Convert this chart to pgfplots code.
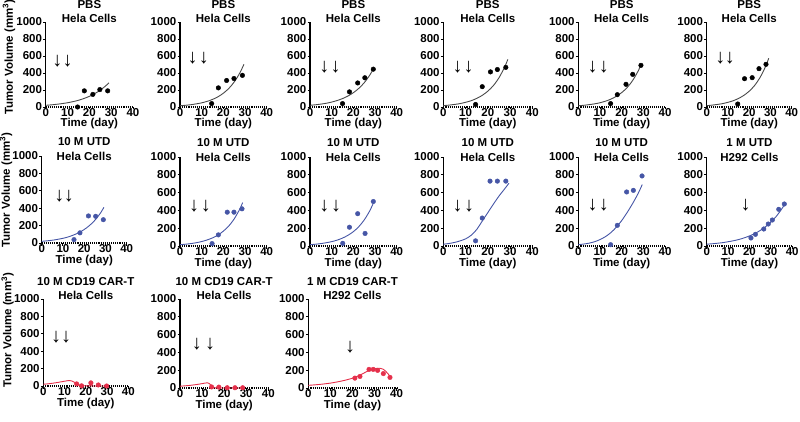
\documentclass[border=0pt]{standalone}
\usepackage{fontspec}
\setmainfont{Liberation Sans}
\usepackage{pgfplots}
\pgfplotsset{compat=1.18}
\definecolor{cgray}{HTML}{4A4A4A}
\definecolor{ublue}{HTML}{4656A6}
\definecolor{cred}{HTML}{E5304B}
\newcommand{\fs}{\fontsize{11.5}{14.5}\selectfont\bfseries}
\newcommand{\arr}{\fontsize{20}{20}\selectfont\bfseries}
\pgfplotsset{
  panel/.style={
    scale only axis, anchor=south west,
    xmin=0, xmax=40, ymin=0, ymax=1000,
    axis x line*=bottom, axis y line*=left,
    xtick={0,10,20,30,40}, ytick={0,200,400,600,800,1000},
    tick align=outside, major tick length=2.5pt,
    every tick/.style={black, line width=0.9pt},
    axis line style={black, line width=1.1pt},
    x axis line style={densely dotted},
    clip=false,
    tick label style={font=\fs},
    /pgf/number format/assume math mode=true,
    /pgf/number format/1000 sep={},
    xticklabel style={inner sep=0pt, yshift=1pt},
    yticklabel style={inner sep=1pt},
    xlabel={Time (day)},
    xlabel style={font=\fs, at={(axis description cs:0.5,-0.2)}, anchor=center},
    title style={font=\fs, align=center, at={(axis description cs:0.5,1.05)}, anchor=center},
  },
  ylab/.style={ylabel={Tumor Volume (mm\textsuperscript{3})},
    ylabel style={font=\fs, at={(axis description cs:-0.42,#1)}, anchor=center}},
  crv/.style={smooth, tension=0.5, line width=0.9pt, no marks},
  pts/.style={only marks, mark=*, mark size=2.3pt},
}
\begin{document}
\begin{tikzpicture}
\path[use as bounding box] (0,0) rectangle (800pt,421pt);
% ---------------- Row 1 ----------------
\begin{axis}[panel, ylab=0.585, at={(45.7pt,314pt)}, width=87.3pt, height=85pt, title={PBS\\Hela Cells}]
\addplot[crv, cgray] coordinates {(0,20)(2.5,25)(5,32)(7.5,40)(10,50)(12.5,63)(15,79)(17.5,100)(20,125)(22.5,158)(25,198)(27.5,249)(29,285)};
\addplot[pts, black] coordinates {(14.6,0)(17.7,190)(21.6,148)(24.8,205)(28.4,190)};
\node[font=\arr] at (axis cs:5.3,540) {↓};
\node[font=\arr] at (axis cs:10.1,540) {↓};
\end{axis}
\begin{axis}[panel, at={(180pt,314pt)}, width=86.7pt, height=85pt, title={PBS\\Hela Cells}]
\addplot[crv, cgray] coordinates {(0,15)(2.5,20)(5,27)(7.5,37)(10,49)(12.5,66)(15,89)(17.5,120)(20,162)(22.5,218)(25,294)(27.5,396)(29.5,502)};
\addplot[pts, black] coordinates {(14.6,40)(17.7,225)(21.5,312)(24.9,335)(28.8,372)};
\node[font=\arr] at (axis cs:5.8,571) {↓};
\node[font=\arr] at (axis cs:11,571) {↓};
\end{axis}
\begin{axis}[panel, at={(310pt,314pt)}, width=86.7pt, height=85pt, title={PBS\\Hela Cells}]
\addplot[crv, cgray] coordinates {(0,20)(2.5,26)(5,34)(7.5,44)(10,58)(12.5,76)(15,99)(17.5,129)(20,168)(22.5,219)(25,285)(27.5,372)(29.5,460)};
\addplot[pts, black] coordinates {(15,40)(18.2,178)(22,283)(25.3,344)(29.2,445)};
\node[font=\arr] at (axis cs:6.6,472) {↓};
\node[font=\arr] at (axis cs:11.8,472) {↓};
\end{axis}
\begin{axis}[panel, at={(443.3pt,314pt)}, width=89pt, height=85pt, title={PBS\\Hela Cells}]
\addplot[crv, cgray] coordinates {(0,16)(2.5,22)(5,30)(7.5,40)(10,55)(12.5,74)(15,101)(17.5,137)(20,186)(22.5,252)(25,343)(27.5,466)(29,560)};
\addplot[pts, black] coordinates {(14.5,30)(17.5,239)(21.2,413)(24.3,441)(28.1,466)};
\node[font=\arr] at (axis cs:6.4,472) {↓};
\node[font=\arr] at (axis cs:11.4,472) {↓};
\end{axis}
\begin{axis}[panel, at={(578.3pt,314pt)}, width=86.7pt, height=85pt, title={PBS\\Hela Cells}]
\addplot[crv, cgray] coordinates {(0,15)(2.5,20)(5,28)(7.5,37)(10,50)(12.5,68)(15,92)(17.5,125)(20,169)(22.5,228)(25,309)(27.5,418)(29,501)};
\addplot[pts, black] coordinates {(14.9,40)(18,145)(22,267)(25.1,384)(28.9,490)};
\node[font=\arr] at (axis cs:6.6,472) {↓};
\node[font=\arr] at (axis cs:11.8,472) {↓};
\end{axis}
\begin{axis}[panel, at={(706.7pt,314pt)}, width=85pt, height=85pt, title={PBS\\Hela Cells}]
\addplot[crv, cgray] coordinates {(0,16)(2.5,22)(5,30)(7.5,40)(10,55)(12.5,74)(15,101)(17.5,137)(20,186)(22.5,252)(25,343)(27.5,466)(29.2,574)};
\addplot[pts, black] coordinates {(14.6,35)(17.8,333)(21.4,345)(24.6,451)(27.9,502)};
\node[font=\arr] at (axis cs:6.4,571) {↓};
\node[font=\arr] at (axis cs:10.9,571) {↓};
\end{axis}
% ---------------- Row 2 ----------------
\begin{axis}[panel, ylab=0.61, at={(41.7pt,178pt)}, width=85pt, height=87pt, title={10 M UTD\\Hela Cells}, title style={at={(axis description cs:0.5,1.01)}}]
\addplot[crv, ublue] coordinates {(0,19)(2.5,25)(5,32)(7.5,42)(10,54)(12.5,70)(15,92)(17.5,119)(20,155)(22.5,201)(25,261)(27.5,339)(29.3,410)};
\addplot[pts, ublue] coordinates {(15.2,39)(18,117)(22,311)(25.4,307)(29,268)};
\node[font=\arr] at (axis cs:8.3,538) {↓};
\node[font=\arr] at (axis cs:12.8,538) {↓};
\end{axis}
\begin{axis}[panel, at={(180pt,175pt)}, width=86.7pt, height=89pt, title={10 M UTD\\Hela Cells}, title style={at={(axis description cs:0.5,1.01)}}]
\addplot[crv, ublue] coordinates {(0,15)(2.5,20)(5,27)(7.5,37)(10,50)(12.5,68)(15,91)(17.5,123)(20,167)(22.5,225)(25,304)(27.5,411)(28.9,487)};
\addplot[pts, ublue] coordinates {(14.8,27)(17.7,125)(21.8,380)(24.9,380)(28.6,418)};
\node[font=\arr] at (axis cs:6.5,442) {↓};
\node[font=\arr] at (axis cs:11.9,442) {↓};
\end{axis}
\begin{axis}[panel, at={(310pt,175pt)}, width=86.7pt, height=89pt, title={10 M UTD\\Hela Cells}, title style={at={(axis description cs:0.5,1.01)}}]
\addplot[crv, ublue] coordinates {(0,15)(2.5,20)(5,27)(7.5,37)(10,49)(12.5,66)(15,89)(17.5,120)(20,161)(22.5,217)(25,292)(27.5,392)(29.2,480)};
\addplot[pts, ublue] coordinates {(15.1,30)(18.2,211)(22,363)(25.4,141)(29.2,500)};
\node[font=\arr] at (axis cs:6.6,442) {↓};
\node[font=\arr] at (axis cs:12,442) {↓};
\end{axis}
\begin{axis}[panel, at={(443.3pt,175pt)}, width=89pt, height=89pt, title={10 M UTD\\Hela Cells}, title style={at={(axis description cs:0.5,1.01)}}]
\addplot[crv, ublue] coordinates {(0,20)(2.5,28)(5,40)(7.5,57)(10,80)(12.5,120)(15,185)(17.5,280)(20,375)(22.5,470)(25,560)(27.5,640)(29.5,705)};
\addplot[pts, ublue] coordinates {(14.5,58)(17.5,314)(21,729)(24.3,729)(28.1,729)};
\node[font=\arr] at (axis cs:6.4,442) {↓};
\node[font=\arr] at (axis cs:11.6,442) {↓};
\end{axis}
\begin{axis}[panel, at={(578.3pt,175pt)}, width=86.7pt, height=89pt, title={10 M UTD\\Hela Cells}, title style={at={(axis description cs:0.5,1.01)}}]
\addplot[crv, ublue] coordinates {(0,15)(2.5,22)(5,32)(7.5,48)(10,72)(12.5,105)(15,150)(17.5,210)(20,285)(22.5,375)(25,475)(27.5,585)(29.5,690)};
\addplot[pts, ublue] coordinates {(14.9,15)(18,232)(22.3,607)(25.4,625)(29.4,787)};
\node[font=\arr] at (axis cs:6.6,456) {↓};
\node[font=\arr] at (axis cs:11.8,456) {↓};
\end{axis}
\begin{axis}[panel, at={(706.7pt,175pt)}, width=85.5pt, height=89pt, title={1 M UTD\\H292 Cells}, title style={at={(axis description cs:0.5,1.01)}}]
\addplot[crv, ublue] coordinates {(0,20)(2.5,25)(5,31)(7.5,38)(10,48)(12.5,59)(15,73)(17.5,91)(20,113)(22.5,140)(25,174)(27.5,216)(30,268)(32.5,332)(35,413)(37,490)};
\addplot[pts, ublue] coordinates {(20.7,90)(22.8,131)(26.7,191)(28.8,247)(30.7,292)(33.7,412)(36.3,472)};
\node[font=\arr] at (axis cs:18.2,456) {↓};
\end{axis}
% ---------------- Row 3 ----------------
\begin{axis}[panel, ylab=0.64, at={(43.3pt,35pt)}, width=85pt, height=87pt, title={10 M CD19 CAR-T\\Hela Cells}]
\addplot[crv, cred] coordinates {(0,20)(2.5,26)(5,34)(7.5,44)(10,55)(11.5,61)(12.5,62)(13.5,57)(14.5,45)(15.5,28)(16.5,15)(17.5,7)(19,3)(22,1)(26,0)(30,0)};
\addplot[pts, cred] coordinates {(15.7,24)(18,2)(22.4,36)(25.9,12)(29.8,0)};
\node[font=\arr] at (axis cs:6,564) {↓};
\node[font=\arr] at (axis cs:10.7,564) {↓};
\end{axis}
\begin{axis}[panel, at={(180pt,33pt)}, width=88.3pt, height=89pt, title={10 M CD19 CAR-T\\Hela Cells}]
\addplot[crv, cred] coordinates {(0,20)(2.5,25)(5,31)(7.5,39)(10,49)(11.5,56)(12.5,58)(13.3,50)(14,30)(14.6,12)(15.3,4)(17,1)(20,0)(29,0)};
\addplot[pts, cred] coordinates {(14.3,12)(17.6,10)(21.4,3)(24.9,3)(28.4,3)};
\node[font=\arr] at (axis cs:7.6,497) {↓};
\node[font=\arr] at (axis cs:13.6,497) {↓};
\end{axis}
\begin{axis}[panel, at={(308.3pt,33pt)}, width=88.3pt, height=89pt, title={1 M CD19 CAR-T\\H292 Cells}]
\addplot[crv, cred] coordinates {(0,30)(5,40)(10,55)(15,78)(20,110)(24,152)(27,192)(29,210)(30.5,219)(32,222)(33,219)(34,210)(35,190)(36,163)(37,132)(37.7,112)};
\addplot[pts, cred] coordinates {(21.1,111)(23.4,130)(27.5,209)(29.4,209)(31.4,198)(34,162)(37,119)};
\node[font=\arr] at (axis cs:18.9,460) {↓};
\end{axis}
\end{tikzpicture}
\end{document}
